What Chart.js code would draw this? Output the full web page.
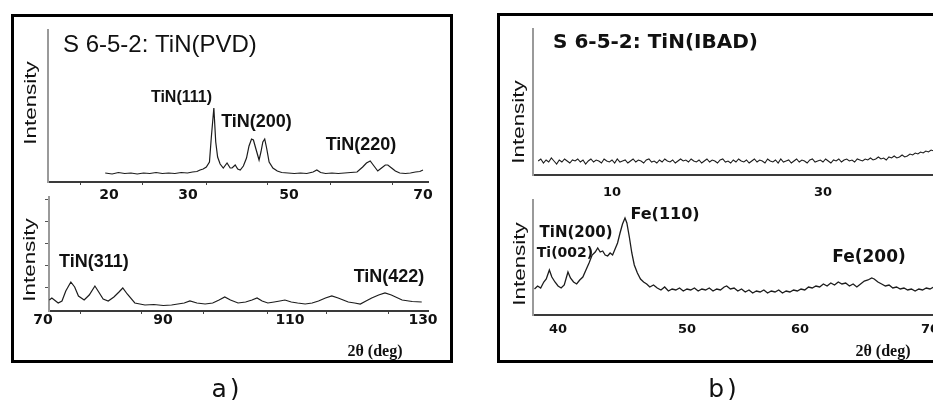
<!DOCTYPE html>
<html><head><meta charset="utf-8">
<script src="https://cdn.jsdelivr.net/npm/chart.js@4.4.1/dist/chart.umd.min.js"></script>
<style>
html,body{margin:0;padding:0;background:#fff;width:933px;height:400px;overflow:hidden;position:relative;}
.frame{position:absolute;border:3px solid #000;box-sizing:border-box;}
.layer{position:absolute;left:0;top:0;width:980px;height:400px;}
.cap{position:absolute;font-family:"DejaVu Sans";font-size:25px;color:#111;transform:translate(-50%,-50%);letter-spacing:3px;line-height:1;white-space:nowrap;}
</style></head><body>
<div class="frame" style="left:11px;top:14px;width:442px;height:349px"></div>
<div class="frame" style="left:497px;top:13px;width:470px;height:350px"></div>
<div class="layer"><canvas id="aTop" width="980" height="400"></canvas></div>
<div class="layer"><canvas id="aBot" width="980" height="400"></canvas></div>
<div class="layer"><canvas id="bTop" width="980" height="400"></canvas></div>
<div class="layer"><canvas id="bBot" width="980" height="400"></canvas></div>
<div class="cap" style="left:227px;top:388px">a)</div>
<div class="cap" style="left:724px;top:388px">b)</div>
<script>
// ---------- DATA ----------
// a) TiN(PVD), 2θ 20-70
const aTopTheta = [19.4,20.5,21.5,22.5,23.5,24.5,25.5,26.5,27.5,28.5,29.5,30.5,31.5,32.5,33.3,34.0,34.5,35.0,35.5,36.0,36.3,36.7,37.0,37.3,37.7,38.2,38.8,39.3,39.6,40.1,40.5,40.9,41.4,41.9,42.3,42.7,43.0,43.4,43.9,44.2,44.5,44.8,45.1,45.5,46.1,46.8,47.5,48.5,49.5,50.5,51.5,52.5,53.1,53.7,54.5,55.5,56.5,57.5,58.5,59.5,60.4,61.0,61.6,62.2,62.8,63.4,64.0,64.4,65.0,65.6,66.3,67.2,68.0,68.8,69.5,70.0];
const aTopIntensity = [9,8,9.5,8.5,9,8,9,8.5,9.5,8.5,9,8.5,9.5,9,10,10.5,12,13,15,20,45,74,40,25,18,14,19,14,14,17,13,12,16,24,36,43,42,33,22,30,40,43,34,20,14,11,9.5,9,8.5,9,8.5,10,12,9.5,8.5,9,8.5,9,9.5,10,15,19,21,16,11,14,17,17,14,11,9,8.5,9,10,10.5,12];
const aTopTickLabels = ['20','30','50','70'];
const aTopTickAt = [20, 32.58, 48.66, 70];
const aTopMinorAt = [15.4, 25.4, 35.6, 45.2, 55.2, 65.2];

// a) TiN(PVD), 2θ 70-130
const aBotTheta = [71.0,71.4,72.0,72.4,73.0,73.6,74.4,75.0,75.6,76.5,77.3,78.2,78.8,79.5,80.3,81.2,82.0,82.6,83.3,84.5,86.1,87.5,89.0,90.3,91.3,92.3,93.2,94.3,95.6,96.8,97.8,98.7,99.6,100.8,102.0,103.0,103.8,104.6,105.5,106.5,107.4,108.2,109.2,110.2,111.4,112.5,113.5,114.6,115.6,116.6,117.4,118.2,119.2,120.1,121.0,121.9,123.0,124.0,125.0,126.7,128.3,129.8];
const aBotIntensity = [11,13,10,8,10,20,29,24,15,11,16,25,19,12,10,14,19,23,17,8,6,6.5,5.5,6,7,8,10,8,7,8,11,14,11,8,9,11,13,10,8,9,10,11,9,8,7,8,10,13,15,13,11,9,8,7,10,13,16,18,16,11,9.5,9];
const aBotTickLabels = ['70','90','110','130'];
const aBotTickAt = [70, 88.95, 109.0, 130];
const aBotMinorAt = [76, 85.6, 95.4, 105.4, 114.8, 124.5];
const aBotYTickAt = [112, 90, 68, 46, 24];

// b) TiN(IBAD), 2θ low range
const bTopTheta = [3.0,3.25,3.5,3.75,4.0,4.25,4.5,4.75,5.0,5.25,5.5,5.75,6.0,6.25,6.5,6.75,7.0,7.25,7.5,7.75,8.0,8.25,8.5,8.75,9.0,9.25,9.5,9.75,10.0,10.25,10.5,10.75,11.0,11.25,11.5,11.75,12.0,12.25,12.5,12.75,13.0,13.25,13.5,13.75,14.0,14.25,14.5,14.75,15.0,15.25,15.5,15.75,16.0,16.25,16.5,16.75,17.0,17.25,17.5,17.75,18.0,18.25,18.5,18.75,19.0,19.25,19.5,19.75,20.0,20.25,20.5,20.75,21.0,21.25,21.5,21.75,22.0,22.25,22.5,22.75,23.0,23.25,23.5,23.75,24.0,24.25,24.5,24.75,25.0,25.25,25.5,25.75,26.0,26.25,26.5,26.75,27.0,27.25,27.5,27.75,28.0,28.25,28.5,28.75,29.0,29.25,29.5,29.75,30.0,30.25,30.5,30.75,31.0,31.25,31.5,31.75,32.0,32.25,32.5,32.75,33.0,33.25,33.5,33.75,34.0,34.25,34.5,34.75,35.0,35.25,35.5,35.75,36.0,36.25,36.5,36.75,37.0,37.25,37.5,37.75,38.0,38.25,38.5,38.75,39.0,39.25,39.5,39.75,40.0,40.25,40.5,40.75,41.0,41.25,41.5,41.75,42.0];
const bTopIntensity = [14,16,12,15,13,17,14,11,15,13,16,14,12,15,14,16,13,15,11,14,16,13,15,14,12,16,14,13,15,12,16,13,14,15,12,14,16,13,15,14,12,15,16,13,14,12,15,13,16,14,13,15,12,14,16,14,15,13,16,14,13,15,12,14,16,13,15,14,12,15,16,13,14,12,15,13,16,14,13,15,12,14,16,13,15,14,12,16,14,13,15,12,16,13,14,15,12,14,16,13,15,14,12,15,16,13,14,15,13,16,14,12,15,14,16,13,15,16,14,15,13,16,15,14,16,15,17,15,16,18,16,17,15,18,17,19,17,18,20,18,19,21,20,22,21,23,22,24,23,25,24,26,25,27,26,28,28];
const bTopTickLabels = ['10','30'];
const bTopTickAt = [10, 30];

// b) TiN(IBAD), 2θ 38-72
const bBotTheta = [38.1,38.35,38.6,38.85,39.05,39.3,39.5,39.75,40.0,40.25,40.5,40.8,41.0,41.25,41.5,41.75,42.0,42.25,42.5,42.75,43.0,43.2,43.4,43.6,43.8,44.0,44.2,44.4,44.6,44.8,45.0,45.2,45.4,45.55,45.75,45.95,46.15,46.4,46.65,46.9,47.15,47.4,47.7,48.0,48.3,48.6,48.9,49.2,49.5,49.8,50.1,50.4,50.7,51.0,51.3,51.6,51.9,52.2,52.5,52.8,53.1,53.4,53.6,53.9,54.2,54.5,54.8,55.1,55.4,55.7,56.0,56.3,56.6,56.9,57.2,57.5,57.8,58.1,58.4,58.7,59.0,59.3,59.6,59.9,60.2,60.5,60.8,61.1,61.4,61.7,62.0,62.3,62.6,62.9,63.2,63.5,63.8,64.1,64.4,64.7,65.0,65.3,65.5,65.8,66.1,66.4,66.7,67.0,67.3,67.6,67.9,68.2,68.5,68.8,69.1,69.4,69.7,70.0,70.3,70.6,70.9,71.2,71.5,71.8,72.1];
const bBotIntensity = [26,29,27,33,36,45,38,33,29,27,30,43,37,33,31,35,38,45,52,60,63,67,63,64,60,59,62,60,66,72,82,91,97,92,78,62,50,42,36,33,31,28,30,27,25,28,24,26,25,27,24,26,25,27,24,26,25,27,24,26,25,28,29,26,27,24,26,23,25,22,24,23,25,22,24,23,25,22,24,23,25,24,26,25,28,27,29,28,31,29,32,30,33,31,32,29,31,28,31,34,35,37,36,33,31,29,30,27,28,26,27,25,26,24,26,25,27,26,28,25,27,26,27,25,26];
const bBotTickLabels = ['40','50','60','70'];
const bBotTickAt = [40, 50.4, 59.52, 70];

// ---------- RENDERING ----------
const textPlugin = {
  id: 'texts',
  afterDraw(chart, args, opts) {
    const ctx = chart.ctx, xs = chart.scales.x, ys = chart.scales.y;
    (opts.items || []).forEach(t => {
      const px = xs.getPixelForValue(t.x), py = ys.getPixelForValue(t.y);
      ctx.save();
      ctx.translate(px, py);
      if (t.rot) ctx.rotate(t.rot * Math.PI / 180);
      if (t.sx) ctx.scale(t.sx, 1);
      ctx.font = t.font;
      ctx.fillStyle = t.color || '#111';
      ctx.textAlign = t.align || 'center';
      ctx.textBaseline = 'middle';
      ctx.fillText(t.text, 0, 0);
      ctx.restore();
    });
  }
};

function makeChart(id, c) {
  const canvas = document.getElementById(id);
  const W = canvas.width, H = canvas.height, XH = 40;
  const minorSet = new Set(c.minorAt || []);
  const allTicks = [...c.tickAt, ...(c.minorAt || [])].sort((a, b) => a - b);
  new Chart(canvas, {
    type: 'line',
    data: { datasets: [{
      data: c.theta.map((t, i) => ({ x: t, y: c.intensity[i] })),
      borderColor: c.lineColor || '#1c1c1c', borderWidth: c.lineWidth || 1.2,
      pointRadius: 0, tension: 0, fill: false
    }]},
    options: {
      responsive: false, animation: false, devicePixelRatio: 1,
      layout: { padding: { left: c.area.left, top: c.area.top, right: W - c.area.right, bottom: H - c.area.bottom - XH } },
      plugins: { legend: { display: false }, tooltip: { enabled: false }, title: { display: false },
                 texts: { items: c.texts } },
      scales: {
        x: {
          type: 'linear', min: c.xMin, max: c.xMax,
          afterBuildTicks: s => { s.ticks = allTicks.map(v => ({ value: v })); },
          afterFit: s => { s.height = XH; },
          ticks: {
            autoSkip: false, maxRotation: 0, minRotation: 0, padding: c.tickPad,
            font: { family: 'DejaVu Sans', size: c.tickSize, weight: 'bold' }, color: '#111',
            callback: v => { const k = c.tickAt.indexOf(v); return k >= 0 ? c.tickLabels[k] : ''; }
          },
          grid: { drawOnChartArea: false, drawTicks: true, tickLength: c.tickLen,
                  color: ctx => (ctx.tick && minorSet.has(ctx.tick.value)) ? '#444' : 'rgba(0,0,0,0)', lineWidth: 1 },
          border: { display: true, color: '#3a3a3a', width: 2 }
        },
        y: {
          type: 'linear', min: 0, max: c.yMax,
          afterBuildTicks: s => { s.ticks = (c.yTickAt || []).map(v => ({ value: v })); },
          afterFit: s => { s.width = 0; },
          ticks: { display: false },
          grid: { drawOnChartArea: false, drawTicks: !!c.yTickAt, tickLength: 4, color: '#555', lineWidth: 1 },
          border: { display: true, color: '#9a9a9a', width: 2 }
        }
      }
    },
    plugins: [textPlugin]
  });
}

const peakA = 'bold 18px "Liberation Sans"';
const peakB = 'bold 15px "DejaVu Sans"';
const axisT = 'bold 16px "Liberation Serif"';
const yLab = '17px "Liberation Sans"';

makeChart('aTop', {
  theta: aTopTheta, intensity: aTopIntensity,
  tickAt: aTopTickAt, tickLabels: aTopTickLabels, minorAt: aTopMinorAt,
  xMin: 10.29, xMax: 70.8, yMax: 152,
  area: { left: 48, top: 30, right: 428, bottom: 182 }, tickLen: 3, tickPad: 2, tickSize: 14,
  texts: [
    { text: 'S 6-5-2: TiN(PVD)', x: 12.68, y: 137, font: '24px "Liberation Sans"', align: 'left' },
    { text: 'TiN(111)', x: 31.54, y: 84, font: 'bold 16px "Liberation Sans"' },
    { text: 'TiN(200)', x: 43.49, y: 60, font: peakA },
    { text: 'TiN(220)', x: 60.13, y: 37, font: peakA },
    { text: 'Intensity', x: 7.58, y: 79, font: yLab, rot: -90, sx: 1.32 }
  ]
});

makeChart('aBot', {
  theta: aBotTheta, intensity: aBotIntensity,
  tickAt: aBotTickAt, tickLabels: aBotTickLabels, minorAt: aBotMinorAt, yTickAt: aBotYTickAt,
  xMin: 70.95, xMax: 130.79, yMax: 114,
  area: { left: 49, top: 197, right: 428, bottom: 311 }, tickLen: 3, tickPad: -2, tickSize: 14,
  texts: [
    { text: 'TiN(311)', x: 78.05, y: 49, font: peakA },
    { text: 'TiN(422)', x: 124.63, y: 34, font: peakA },
    { text: 'Intensity', x: 68.0, y: 51, font: yLab, rot: -90, sx: 1.32 },
    { text: '2θ (deg)', x: 122.42, y: -41, font: axisT }
  ]
});

makeChart('bTop', {
  theta: bTopTheta, intensity: bTopIntensity, lineWidth: 1.1,
  tickAt: bTopTickAt, tickLabels: bTopTickLabels,
  xMin: 2.51, xMax: 42.99, yMax: 146,
  area: { left: 533, top: 29, right: 960, bottom: 175 }, tickLen: 0, tickPad: 10, tickSize: 13,
  texts: [
    { text: 'S 6-5-2: TiN(IBAD)', x: 4.41, y: 132, font: 'bold 20px "DejaVu Sans"', align: 'left' },
    { text: 'Intensity', x: 1.2, y: 53, font: yLab, rot: -90, sx: 1.32 }
  ]
});

makeChart('bBot', {
  theta: bBotTheta, intensity: bBotIntensity, lineWidth: 1.3,
  tickAt: bBotTickAt, tickLabels: bBotTickLabels,
  xMin: 37.98, xMax: 72.42, yMax: 115,
  area: { left: 533, top: 200, right: 960, bottom: 315 }, tickLen: 0, tickPad: 7, tickSize: 13,
  texts: [
    { text: 'Fe(110)', x: 48.63, y: 100, font: 'bold 16px "DejaVu Sans"' },
    { text: 'TiN(200)', x: 41.45, y: 82, font: peakB },
    { text: 'Ti(002)', x: 40.56, y: 62, font: 'bold 14px "DejaVu Sans"' },
    { text: 'Fe(200)', x: 65.08, y: 57, font: 'bold 17px "DejaVu Sans"' },
    { text: 'Intensity', x: 36.92, y: 51, font: yLab, rot: -90, sx: 1.32 },
    { text: '2θ (deg)', x: 66.21, y: -37, font: axisT }
  ]
});
</script>
</body></html>
